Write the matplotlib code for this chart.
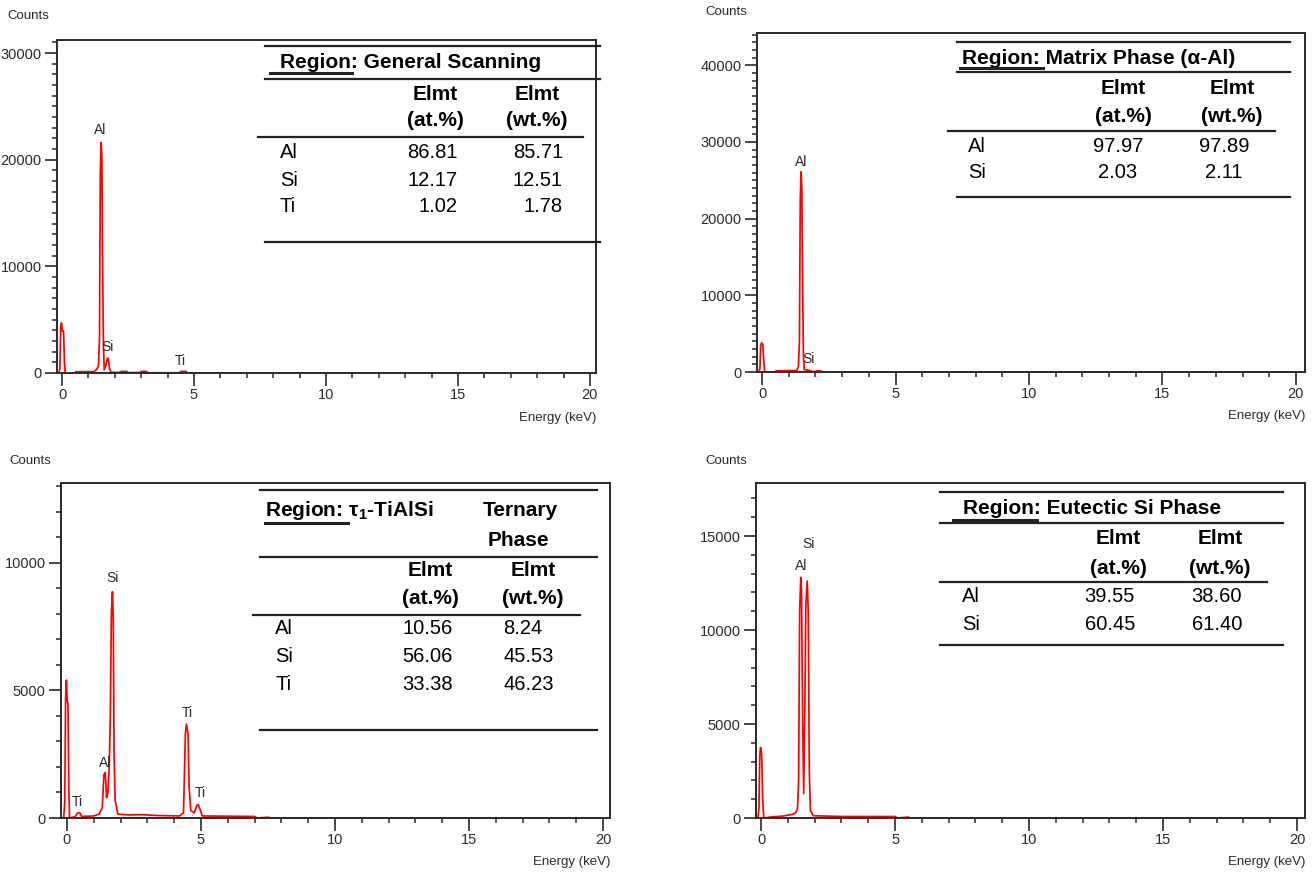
import matplotlib
matplotlib.use("Agg")
import matplotlib.pyplot as plt
from matplotlib.lines import Line2D
from matplotlib.ticker import MultipleLocator

plt.rcParams['font.family'] = ['Liberation Sans', 'DejaVu Sans']
plt.rcParams['mathtext.fontset'] = 'custom'
plt.rcParams['mathtext.rm'] = 'Liberation Sans'
plt.rcParams['mathtext.bf'] = 'Liberation Sans:bold'

W, H = 1315, 875
NARROW = ['Liberation Sans Narrow', 'Liberation Sans', 'DejaVu Sans']

# ---- spectra (energy in keV, counts)
e_general = [-0.12, -0.08, -0.05, -0.02, 0.02, 0.06, 0.09, 0.12, 0.5, 0.52, 1.2, 1.3,
             1.38, 1.42, 1.45, 1.48, 1.51, 1.54, 1.57, 1.60, 1.66, 1.72, 1.76, 1.80,
             1.86, 2.2, 2.25, 2.45, 2.5, 2.95, 3.0, 3.2, 3.25, 4.45, 4.5, 4.7, 4.75, 20]
c_general = [0, 400, 4200, 4700, 3900, 3900, 1100, 0, 0, 120, 130, 300,
             600, 3200, 18500, 21600, 20300, 9500, 2500, 300, 700, 1400, 1300, 400,
             60, 60, 150, 150, 40, 40, 150, 150, 20, 20, 150, 150, 0, 0]
peaks_general = [("Al", 1.44, 22800), ("Si", 1.74, 2400), ("Ti", 4.47, 1150)]

e_matrix = [-0.12, -0.08, -0.05, -0.02, 0.03, 0.07, 0.1, 0.5, 0.52, 1.3, 1.36, 1.40,
            1.43, 1.46, 1.49, 1.52, 1.55, 1.58, 1.7, 1.75, 1.85, 2.0, 2.05, 2.2, 2.25, 20]
c_matrix = [0, 500, 3500, 3800, 3600, 1200, 0, 0, 150, 200, 700, 4000,
            22200, 26100, 23900, 11200, 2000, 300, 250, 200, 100, 50, 150, 150, 0, 0]
peaks_matrix = [("Al", 1.46, 27400), ("Si", 1.73, 1700)]

e_ternary = [-0.12, -0.08, -0.05, -0.02, 0.01, 0.04, 0.07, 0.1, 0.3, 0.4, 0.48, 0.55,
             1.0, 1.2, 1.32, 1.38, 1.43, 1.48, 1.53, 1.58, 1.62, 1.66, 1.70, 1.73, 1.76,
             1.80, 1.9, 2.3, 2.8, 3.3, 4.2, 4.35, 4.42, 4.46, 4.52, 4.56, 4.62, 4.75,
             4.85, 4.9, 4.98, 5.05, 7.0, 7.1, 7.5, 7.6, 20]
c_ternary = [0, 600, 4600, 5400, 4600, 4500, 1200, 0, 50, 200, 200, 60,
             80, 150, 400, 1700, 1780, 800, 1000, 2000, 4000, 8090, 8870, 7800, 2500,
             700, 150, 120, 130, 100, 80, 200, 3300, 3680, 3300, 1200, 300, 200,
             500, 520, 300, 80, 60, 0, 30, 0, 0]
peaks_ternary = [("Ti", 0.39, 630), ("Al", 1.43, 2150), ("Si", 1.72, 9400),
                 ("Ti", 4.5, 4100), ("Ti", 4.96, 980)]

e_eutectic = [-0.12, -0.08, -0.05, -0.02, 0.02, 0.06, 0.1, 0.4, 0.8, 1.0, 1.2, 1.3,
              1.36, 1.40, 1.44, 1.48, 1.51, 1.55, 1.59, 1.63, 1.67, 1.72, 1.76, 1.80,
              1.84, 1.95, 3.0, 5.0, 5.1, 5.5, 5.55, 20]
c_eutectic = [0, 500, 3300, 3750, 3400, 1000, 0, 60, 100, 150, 200, 300,
              500, 2000, 11000, 12800, 12100, 5400, 1300, 5300, 11300, 12600, 11000, 2500,
              400, 120, 80, 80, 0, 50, 0, 0]
peaks_eutectic = [("Al", 1.49, 13400), ("Si", 1.76, 14560)]

# ---- composition tables
title_general = "Region: General Scanning"
elem_general = ["Al", "Si", "Ti"]
at_general = ["86.81", "12.17", "1.02"]
wt_general = ["85.71", "12.51", "1.78"]

title_matrix = "Region: Matrix Phase (α-Al)"
elem_matrix = ["Al", "Si"]
at_matrix = ["97.97", "2.03"]
wt_matrix = ["97.89", "2.11"]

title_ternary = r"Region: τ$_\mathbf{1}$-TiAlSi"
elem_ternary = ["Al", "Si", "Ti"]
at_ternary = ["10.56", "56.06", "33.38"]
wt_ternary = ["8.24", "45.53", "46.23"]

title_eutectic = "Region: Eutectic Si Phase"
elem_eutectic = ["Al", "Si"]
at_eutectic = ["39.55", "60.45"]
wt_eutectic = ["38.60", "61.40"]


def fx(px):
    return px / W


def fy(py):
    return 1 - py / H


fig = plt.figure(figsize=(W / 100, H / 100), dpi=100)
INK = '#222222'
AXC = '#2a2a2a'


def hline(x0, x1, y, lw=1.6):
    fig.add_artist(Line2D([fx(x0), fx(x1)], [fy(y), fy(y)], color=INK, lw=lw,
                          transform=fig.transFigure, zorder=5))


def spectrum(box, xlim, ylim, ymajor, e, c, peaks, counts_xy, energy_xy):
    l, t, r, b = box
    ax = fig.add_axes([fx(l), fy(b), fx(r) - fx(l), fy(t) - fy(b)])
    ax.plot(e, c, color='#ff0000', lw=1.25)
    ax.set_xlim(*xlim)
    ax.set_ylim(*ylim)
    ax.xaxis.set_major_locator(MultipleLocator(5))
    ax.xaxis.set_minor_locator(MultipleLocator(1))
    ax.yaxis.set_major_locator(MultipleLocator(ymajor))
    ax.yaxis.set_minor_locator(MultipleLocator(1000))
    for s in ax.spines.values():
        s.set_color(AXC)
        s.set_linewidth(1.4)
    ax.tick_params(which='major', direction='out', length=9, width=1.2, color=AXC,
                   labelsize=10.5, pad=2)
    ax.tick_params(which='minor', direction='out', length=3.5, width=1.1, color=AXC)
    for lab in ax.get_xticklabels() + ax.get_yticklabels():
        lab.set_family(NARROW)
        lab.set_color(AXC)
    for name, pe, pc in peaks:
        ax.text(pe, pc, name, ha='center', va='center', fontsize=10,
                family=NARROW, color=AXC)
    fig.text(fx(counts_xy[0]), fy(counts_xy[1]), "Counts", ha='left', va='center',
             fontsize=9.5, family=NARROW, color=AXC)
    fig.text(fx(energy_xy[0]), fy(energy_xy[1]), "Energy (keV)", ha='right',
             va='center', fontsize=9.5, family=NARROW, color=AXC)
    return ax


def table(lay, title, elems, at, wt):
    x0, x1 = lay['span']
    hline(x0, x1, lay['top'])
    hline(x0, x1, lay['line2'])
    hline(x0, x1, lay['bottom'])
    hline(lay['line3'][0], lay['line3'][1], lay['line3'][2])
    u = lay['ul']
    hline(u[0], u[1], u[2], lw=2.2)
    fig.text(fx(lay['title_x']), fy(lay['title_y']), title, ha='left', va='center',
             fontsize=15, fontweight='bold', color='black')
    for txt, x, y, ha in lay.get('extra', []):
        fig.text(fx(x), fy(y), txt, ha=ha, va='center', fontsize=15,
                 fontweight='bold', color='black')
    for col, lbl in zip(lay['head_x'], ["(at.%)", "(wt.%)"]):
        fig.text(fx(col), fy(lay['head_y'][0]), "Elmt", ha='center', va='center',
                 fontsize=15, fontweight='bold', color='black')
        fig.text(fx(col), fy(lay['head_y'][1]), lbl, ha='center', va='center',
                 fontsize=15, fontweight='bold', color='black')
    for i, el in enumerate(elems):
        y = lay['rows'][i]
        fig.text(fx(lay['label_x']), fy(y), el, ha='left', va='center',
                 fontsize=14.5, color='black')
        fig.text(fx(lay['at_x']), fy(y), at[i], ha=lay['at_ha'], va='center',
                 fontsize=14.5, color='black')
        fig.text(fx(lay['wt_x']), fy(y), wt[i], ha=lay['wt_ha'], va='center',
                 fontsize=14.5, color='black')


spectrum((57, 40, 596, 373), (-0.19, 20.23), (0, 31220), 10000,
         e_general, c_general, peaks_general, (7, 16), (596, 418))
spectrum((757, 33, 1305, 372), (-0.19, 20.34), (0, 44200), 10000,
         e_matrix, c_matrix, peaks_matrix, (705, 12), (1305, 416))
spectrum((61, 483, 610, 818), (-0.22, 20.26), (0, 13130), 5000,
         e_ternary, c_ternary, peaks_ternary, (9, 461), (610, 862))
spectrum((756, 483, 1305, 818), (-0.19, 20.3), (0, 17820), 5000,
         e_eutectic, c_eutectic, peaks_eutectic, (705, 461), (1305, 862))

table(dict(span=(265, 600), top=46, line2=79, bottom=242, line3=(258, 583, 137),
           ul=(270, 352, 73), title_x=280, title_y=62, head_x=(435, 537),
           head_y=(95, 121), rows=(153, 180, 207), label_x=280,
           at_x=458, at_ha='right', wt_x=563, wt_ha='right'),
      title_general, elem_general, at_general, wt_general)
table(dict(span=(957, 1290), top=42, line2=72, bottom=197, line3=(948, 1275, 131),
           ul=(960, 1043, 68), title_x=962, title_y=58, head_x=(1123, 1232),
           head_y=(89, 116), rows=(146, 173), label_x=968,
           at_x=1118, at_ha='center', wt_x=1224, wt_ha='center'),
      title_matrix, elem_matrix, at_matrix, wt_matrix)
table(dict(span=(260, 597), top=490, line2=557, bottom=730, line3=(253, 580, 615),
           ul=(265, 348, 523), title_x=265, title_y=511, head_x=(430, 533),
           head_y=(571, 598), rows=(629, 656, 684), label_x=275,
           at_x=453, at_ha='right', wt_x=503, wt_ha='left',
           extra=[("Ternary", 483, 511, 'left'), ("Phase", 518, 540, 'center')]),
      title_ternary, elem_ternary, at_ternary, wt_ternary)
table(dict(span=(940, 1283), top=492, line2=523, bottom=645, line3=(940, 1267, 582),
           ul=(953, 1037, 520), title_x=963, title_y=508, head_x=(1118, 1220),
           head_y=(539, 568), rows=(597, 624), label_x=962,
           at_x=1135, at_ha='right', wt_x=1242, wt_ha='right'),
      title_eutectic, elem_eutectic, at_eutectic, wt_eutectic)

fig.savefig("out.png", dpi=100)
